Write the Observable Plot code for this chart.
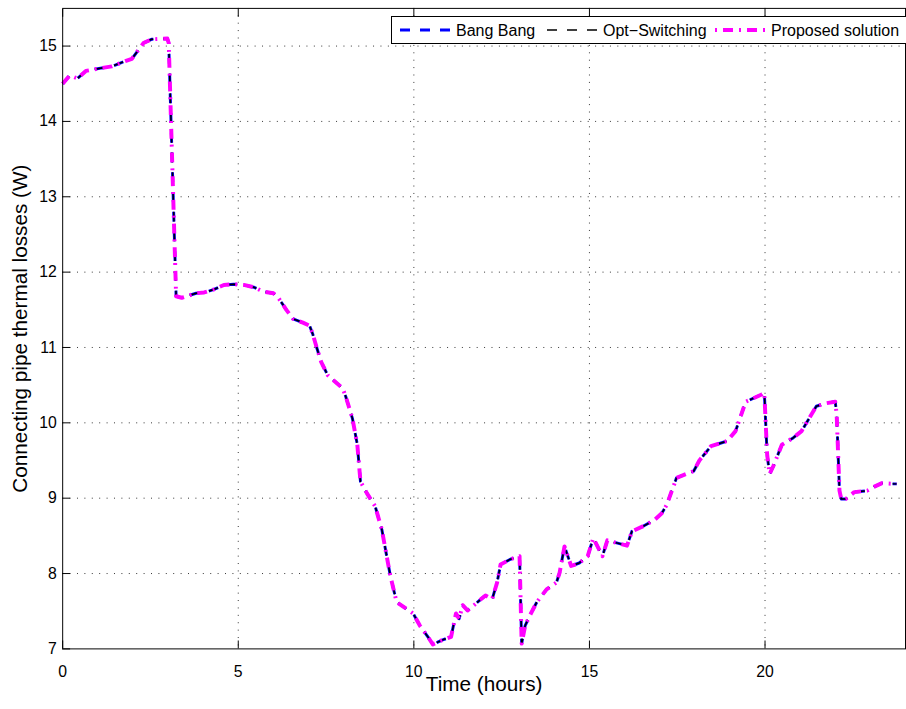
<!DOCTYPE html>
<html><head><meta charset="utf-8">
<script src="https://cdn.jsdelivr.net/npm/d3@7"></script>
<script src="https://cdn.jsdelivr.net/npm/@observablehq/plot@0.6"></script>
<style>
html,body{margin:0;padding:0;background:#fff;overflow:hidden;}
#wrap{position:relative;width:906px;height:709px;overflow:hidden;}
</style></head><body><div id="wrap"></div>
<script>
// Time (hours) of each vertex
const time = [0,0.2,0.42,0.66,1.12,1.4,1.78,1.97,2.3,2.53,2.98,3.02,3.23,3.39,3.8,4.03,4.31,4.59,4.87,5.16,5.44,5.72,6.0,6.14,6.37,6.56,6.84,7.03,7.12,7.22,7.36,7.55,7.97,8.06,8.25,8.39,8.48,8.67,8.9,9.09,9.33,9.51,9.98,10.17,10.4,10.54,10.82,11.06,11.2,11.29,11.39,11.53,11.76,12.04,12.23,12.37,12.47,12.75,13.01,13.07,13.17,13.31,13.5,13.78,14.06,14.15,14.29,14.48,14.71,14.95,15.11,15.37,15.51,16.07,16.21,16.54,16.85,17.06,17.2,17.48,17.97,18.13,18.46,18.93,19.16,19.45,19.92,19.98,20.06,20.13,20.24,20.48,20.8,21.04,21.46,21.74,22.0,22.04,22.12,22.17,22.3,22.54,22.91,23.1,23.33,23.66,23.75];
// Thermal losses (W); the three strategies overlap at this resolution
const losses = [14.5,14.61,14.57,14.67,14.71,14.73,14.8,14.83,15.04,15.09,15.1,15.04,11.68,11.66,11.72,11.73,11.77,11.83,11.84,11.83,11.8,11.74,11.72,11.66,11.5,11.38,11.33,11.29,11.18,11.02,10.81,10.63,10.46,10.35,10.06,9.71,9.22,9.06,8.89,8.58,7.97,7.62,7.47,7.31,7.16,7.06,7.12,7.16,7.47,7.4,7.58,7.51,7.6,7.71,7.66,7.88,8.12,8.19,8.23,7.07,7.31,7.45,7.62,7.79,7.88,8.01,8.36,8.1,8.14,8.23,8.47,8.23,8.44,8.37,8.56,8.63,8.71,8.8,8.91,9.27,9.36,9.5,9.69,9.76,9.89,10.28,10.38,10.4,9.58,9.32,9.43,9.71,9.8,9.89,10.22,10.26,10.28,10.11,9.1,8.99,8.99,9.08,9.1,9.15,9.2,9.19,9.19];
const bangBang = losses;
const optSwitching = losses;
const proposed = losses;

const seriesNames = ["Bang Bang", "Opt\u2212Switching", "Proposed solution"];
const xTicks = [0, 5, 10, 15, 20];
const yTicks = [7, 8, 9, 10, 11, 12, 13, 14, 15];

const styles = [
  {color: "#0000ff", width: 3, dash: "10,10", offset: 0},
  {color: "#000000", width: 1.5, dash: "10,10", offset: 0},
  {color: "#ff00ff", width: 4, dash: "10,6,2,6", offset: 16}
];
const valuesBySeries = [bangBang, optSwitching, proposed];
const rows = seriesNames.flatMap((name, k) => time.map((t, i) => ({series: name, t, v: valuesBySeries[k][i]})));

const font = '"Liberation Sans", Arial, Helvetica, sans-serif';

const chart = Plot.plot({
  width: 918, height: 709,
  marginLeft: 63, marginRight: 1, marginTop: 8, marginBottom: 52,
  style: {fontFamily: font, fontSize: "16px", color: "black", background: "white"},
  x: {domain: [0, 24]},
  y: {domain: [7, 15.5]},
  marks: [
    Plot.ruleX(xTicks.filter(d => d > 0), {x: d => d, stroke: "#333", strokeWidth: 1, strokeDasharray: "1,6.5"}),
    Plot.ruleY(yTicks.filter(d => d > 7), {y: d => d, stroke: "#333", strokeWidth: 1, strokeDasharray: "1,6.5"}),
    ...seriesNames.map((name, k) => Plot.line(rows.filter(r => r.series === name), {
      x: "t", y: "v", stroke: styles[k].color, strokeWidth: styles[k].width,
      strokeDasharray: styles[k].dash, strokeLinecap: "butt", strokeLinejoin: "round"
    })),
    Plot.frame({stroke: "black", strokeWidth: 1}),
    Plot.axisX(xTicks, {anchor: "bottom", tickSize: -8, tickPadding: 25, label: null, fontSize: 16, tickFormat: d => String(d)}),
    Plot.axisX(xTicks, {anchor: "top", tickSize: -8, tickFormat: () => "", label: null}),
    Plot.axisY(yTicks, {anchor: "left", tickSize: -8, tickPadding: 14, label: null, fontSize: 16, tickFormat: d => String(d)}),
    Plot.text(["Time (hours)"], {text: d => d, frameAnchor: "bottom", dy: 43, lineAnchor: "bottom", textAnchor: "middle", fontSize: 21}),
    Plot.text(["Connecting pipe thermal losses (W)"], {text: d => d, frameAnchor: "left", dx: -36, rotate: -90, lineAnchor: "bottom", textAnchor: "middle", fontSize: 21})
  ]
});
document.getElementById("wrap").appendChild(chart);

// Legend (top-right box inside the axes)
const lg = d3.select("#wrap").append("svg")
  .attr("width", 906).attr("height", 60)
  .style("position", "absolute").style("left", "0px").style("top", "0px")
  .style("font-family", font);
lg.append("rect").attr("x", 391.5).attr("y", 16.5).attr("width", 530).attr("height", 27)
  .attr("fill", "white").attr("stroke", "black").attr("stroke-width", 1);
const legendStart = [400, 547, 715];
seriesNames.forEach((name, k) => {
  const x0 = legendStart[k];
  lg.append("line").attr("x1", x0).attr("x2", x0 + 50).attr("y1", 30).attr("y2", 30)
    .attr("stroke", styles[k].color).attr("stroke-width", styles[k].width)
    .attr("stroke-dasharray", styles[k].dash).attr("stroke-dashoffset", styles[k].offset);
  lg.append("text").attr("x", x0 + 56).attr("y", 36).attr("font-size", 16).attr("fill", "black").text(name);
});
</script></body></html>
